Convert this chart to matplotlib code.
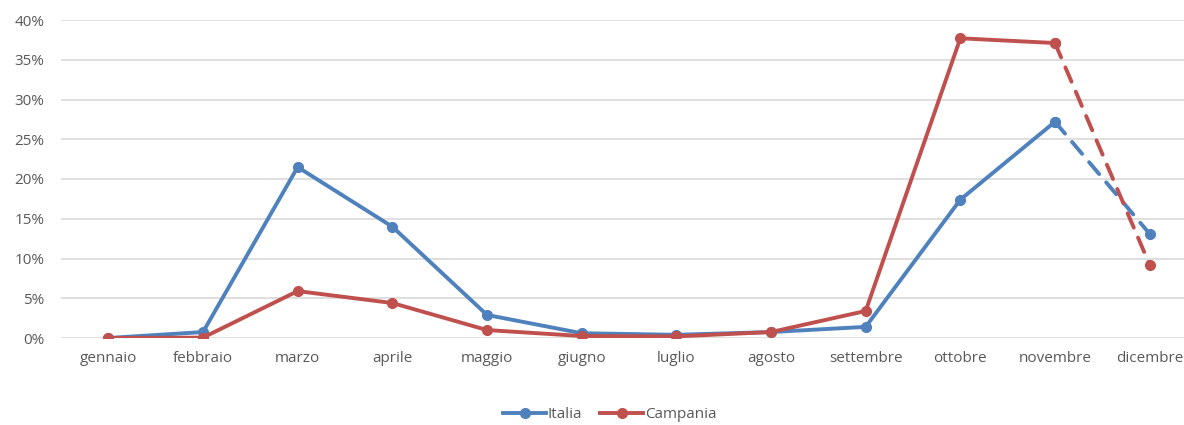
import matplotlib
matplotlib.use("Agg")
import matplotlib.pyplot as plt
from matplotlib.lines import Line2D
from matplotlib.ticker import FuncFormatter, MultipleLocator

months = ["gennaio", "febbraio", "marzo", "aprile", "maggio", "giugno",
          "luglio", "agosto", "settembre", "ottobre", "novembre", "dicembre"]
italia = [0.0, 0.75, 21.5, 14.0, 2.9, 0.6, 0.4, 0.75, 1.4, 17.4, 27.2, 13.1]
campania = [0.0, 0.05, 5.9, 4.4, 1.0, 0.25, 0.2, 0.75, 3.4, 37.7, 37.1, 9.2]

c_it = "#4F81BD"
c_ca = "#C0504D"
txt = "#595959"

plt.rcParams['font.family'] = ['Open Sans', 'DejaVu Sans']

fig = plt.figure(figsize=(11.84, 4.25), dpi=100)
ax = fig.add_axes([61/1184, 87/425, 1136/1184, 318/425])

x = list(range(len(months)))
for vals, col in [(italia, c_it), (campania, c_ca)]:
    ax.plot(x[:11], vals[:11], color=col, lw=2.8, marker='o', ms=7,
            solid_capstyle='round', zorder=3)
    ax.plot(x[10:], vals[10:], color=col, lw=2.8, marker='o', ms=7,
            dashes=(4, 2.8), dash_capstyle='round', zorder=3)

ax.set_xlim(-0.5, 11.5)
ax.set_ylim(0, 40)
ax.yaxis.set_major_locator(MultipleLocator(5))
ax.yaxis.set_major_formatter(FuncFormatter(lambda v, p: f"{int(v)}%"))
ax.set_xticks(x)
ax.set_xticklabels(months)
ax.grid(axis='y', color='#D9D9D9', lw=1.2, zorder=0)
ax.set_axisbelow(True)
for s in ax.spines.values():
    s.set_visible(False)
ax.tick_params(axis='both', length=0, colors=txt, labelsize=11)
ax.tick_params(axis='x', pad=9)
ax.tick_params(axis='y', pad=12)

handles = [Line2D([], [], color=c_it, lw=2.8, marker='o', ms=7),
           Line2D([], [], color=c_ca, lw=2.8, marker='o', ms=7)]
leg = fig.legend(handles, ["Italia", "Campania"], loc='center',
                 bbox_to_anchor=(0.515, 10/425), ncol=2, frameon=False,
                 fontsize=11, handlelength=2.8, columnspacing=1.2,
                 handletextpad=0.1)
for t in leg.get_texts():
    t.set_color(txt)

fig.savefig("out.png", dpi=100)
